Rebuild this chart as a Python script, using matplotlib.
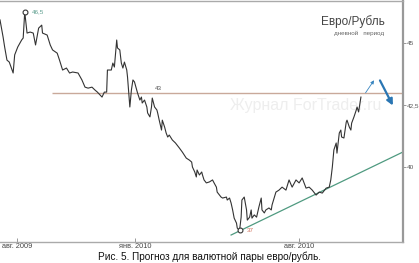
import numpy as np
import pandas as pd
import matplotlib
matplotlib.use("Agg")
import matplotlib.pyplot as plt
import matplotlib.dates as mdates

plt.rcParams['font.family'] = ['Liberation Sans', 'DejaVu Sans']

# курс евро/рубль, дневной период
dates = [
    "2009-07-10", "2009-07-14", "2009-07-16", "2009-07-19", "2009-07-22", "2009-07-27", "2009-07-29",
    "2009-08-02", "2009-08-07", "2009-08-09", "2009-08-11", "2009-08-14", "2009-08-18", "2009-08-22",
    "2009-08-25", "2009-08-29", "2009-09-02", "2009-09-03", "2009-09-09", "2009-09-13", "2009-09-16",
    "2009-09-22", "2009-09-25", "2009-09-29", "2009-10-04", "2009-10-08", "2009-10-12", "2009-10-19",
    "2009-10-24", "2009-10-28", "2009-11-01", "2009-11-06", "2009-11-10", "2009-11-13", "2009-11-19",
    "2009-11-22", "2009-11-25", "2009-11-26", "2009-12-01", "2009-12-03", "2009-12-05", "2009-12-08",
    "2009-12-09", "2009-12-12", "2009-12-14", "2009-12-16", "2009-12-18", "2009-12-21", "2009-12-22",
    "2009-12-25", "2009-12-27", "2009-12-29", "2009-12-31", "2010-01-03", "2010-01-04", "2010-01-07",
    "2010-01-09", "2010-01-10", "2010-01-13", "2010-01-16", "2010-01-17", "2010-01-20", "2010-01-22",
    "2010-01-23", "2010-01-26", "2010-01-29", "2010-01-30", "2010-02-01", "2010-02-04", "2010-02-05",
    "2010-02-08", "2010-02-10", "2010-02-12", "2010-02-14", "2010-02-18", "2010-02-22", "2010-02-25",
    "2010-02-27", "2010-03-03", "2010-03-08", "2010-03-12", "2010-03-15", "2010-03-16", "2010-03-19",
    "2010-03-21", "2010-03-22", "2010-03-25", "2010-03-28", "2010-03-29", "2010-03-31", "2010-04-03",
    "2010-04-07", "2010-04-11", "2010-04-13", "2010-04-16", "2010-04-17", "2010-04-20", "2010-04-22",
    "2010-04-24", "2010-04-29", "2010-04-30", "2010-05-03", "2010-05-05", "2010-05-07", "2010-05-09",
    "2010-05-12", "2010-05-13", "2010-05-16", "2010-05-18", "2010-05-19", "2010-05-22", "2010-05-25",
    "2010-05-26", "2010-05-29", "2010-05-31", "2010-06-01", "2010-06-04", "2010-06-07", "2010-06-10",
    "2010-06-13", "2010-06-14", "2010-06-17", "2010-06-19", "2010-06-23", "2010-06-26", "2010-06-27",
    "2010-07-02", "2010-07-06", "2010-07-10", "2010-07-15", "2010-07-19", "2010-07-23", "2010-07-28",
    "2010-08-01", "2010-08-05", "2010-08-10", "2010-08-14", "2010-08-18", "2010-08-23", "2010-08-27",
    "2010-08-31", "2010-09-05", "2010-09-09", "2010-09-11", "2010-09-13", "2010-09-15", "2010-09-18",
    "2010-09-19", "2010-09-22", "2010-09-24", "2010-09-25", "2010-09-28", "2010-10-01", "2010-10-02",
    "2010-10-05", "2010-10-07", "2010-10-08", "2010-10-11", "2010-10-14", "2010-10-15", "2010-10-17",
    "2010-10-20",
]
rate = [
    45.93, 45.24, 44.84, 44.31, 44.23, 43.79, 44.52,
    44.84, 45.12, 45.20, 46.25, 45.40, 45.44, 45.40,
    44.92, 45.60, 45.72, 45.40, 45.32, 44.92, 44.72,
    44.59, 44.31, 43.91, 43.99, 43.79, 43.83, 43.79,
    43.51, 43.22, 43.18, 43.22, 43.10, 43.02, 42.82,
    43.02, 43.02, 43.91, 43.91, 44.19, 44.03, 45.12,
    44.80, 44.72, 44.19, 43.99, 44.23, 43.91, 43.63,
    42.42, 43.10, 43.51, 43.43, 43.10, 42.98, 42.70,
    42.82, 42.58, 42.70, 42.42, 42.18, 42.02, 42.42,
    42.78, 42.42, 42.30, 42.18, 41.89, 41.49, 41.89,
    41.61, 41.37, 41.21, 41.29, 41.09, 40.97, 40.85,
    40.77, 40.60, 40.36, 40.28, 40.20, 40.00, 39.80,
    39.60, 39.88, 39.68, 39.80, 39.68, 39.48, 39.36,
    39.40, 39.48, 39.36, 39.19, 38.99, 38.87, 38.79,
    38.75, 38.79, 38.67, 38.75, 38.55, 38.27, 37.94,
    37.74, 37.54, 37.45, 37.98, 38.67, 38.79, 38.27,
    37.86, 37.98, 38.27, 37.94, 38.07, 37.98, 38.39,
    38.75, 38.27, 38.15, 38.27, 38.35, 38.27, 38.47,
    38.99, 39.07, 39.19, 39.07, 39.48, 39.19, 39.48,
    39.36, 39.56, 39.15, 39.19, 39.07, 38.87, 38.99,
    38.95, 39.15, 39.19, 39.48, 40.00, 40.69, 40.97,
    40.56, 41.37, 41.49, 41.21, 41.17, 41.81, 41.89,
    41.61, 41.49, 41.77, 42.02, 42.30, 42.42, 42.22,
    42.82,
]

# уровни и прогноз
level = 43.0
level_span = ["2009-09-15", "2010-12-13"]
trend_dates = ["2010-05-05", "2010-12-13"]
trend_vals = [37.26, 40.60]
up_arrow = (["2010-10-24", "2010-11-08"], [42.90, 43.59])
down_arrow = (["2010-11-12", "2010-12-02"], [43.59, 42.38])
peak = ("2009-08-11", 46.25, "46,5")
low = ("2010-05-16", 37.45, "37")

xticks = ["2009-08-01", "2010-01-01", "2010-08-01"]
xtick_labels = ["авг. 2009", "янв. 2010", "авг. 2010"]
yticks = [40, 42.5, 45]
ytick_labels = ["40", "42,5", "45"]

d = pd.to_datetime(dates)

fig = plt.figure(figsize=(4.19, 2.63), dpi=100)
ax = fig.add_axes([0.0, 0.08, 0.961, 0.916])

ax.plot(d, rate, color="#333333", lw=0.8, zorder=3)
ls = pd.to_datetime(level_span)
ax.hlines(level, ls[0], ls[1], color="#c9a99a", lw=1.0, zorder=2)
ax.text(pd.Timestamp("2010-01-26"), level + 0.05, "43", fontsize=4.5, color="#555555", va="bottom")

ax.plot(pd.to_datetime(trend_dates), trend_vals, color="#4f9a80", lw=0.9, zorder=2)

ud = pd.to_datetime(up_arrow[0])
ax.annotate("", xy=(ud[1], up_arrow[1][1]), xytext=(ud[0], up_arrow[1][0]),
            arrowprops=dict(arrowstyle="-|>", color="#3a86c0", lw=0.6, mutation_scale=5))
dd = pd.to_datetime(down_arrow[0])
ax.annotate("", xy=(dd[1], down_arrow[1][1]), xytext=(dd[0], down_arrow[1][0]),
            arrowprops=dict(arrowstyle="-|>", color="#2a76b3", lw=1.6, mutation_scale=9))

for when, val, lab, col in [(peak[0], peak[1], peak[2], "#5a9c8c"), (low[0], low[1], low[2], "#d0705a")]:
    t = pd.Timestamp(when)
    ax.plot([t], [val], marker="o", ms=3.5, mfc="white", mec="#333333", mew=0.8, zorder=4)
    ax.text(t + pd.Timedelta(days=9), val, lab, fontsize=4.5, color=col, va="center")

ax.text(0.955, 0.915, "Евро/Рубль", transform=ax.transAxes, fontsize=8.5, color="#444444",
        ha="right", va="center")
ax.text(0.955, 0.865, "дневной   период", transform=ax.transAxes, fontsize=4.5, color="#666666",
        ha="right", va="center")
ax.text(0.76, 0.565, "Журнал ForTrader.ru", transform=ax.transAxes, fontsize=11.5,
        color="#eeeeee", ha="center", va="center", zorder=1)

ax.set_xlim(pd.Timestamp("2009-07-10"), pd.Timestamp("2010-12-13"))
ax.set_ylim(36.98, 46.69)

ax.set_xticks(pd.to_datetime(xticks))
ax.set_xticklabels(xtick_labels)
ax.set_yticks(yticks)
ax.set_yticklabels(ytick_labels)
ax.yaxis.tick_right()
ax.tick_params(axis="x", direction="in", length=3, width=0.6, colors="#888888",
               labelcolor="#444444", labelsize=5.3, pad=1)
ax.tick_params(axis="y", direction="out", length=2, width=0.6, colors="#888888",
               labelcolor="#555555", labelsize=4.6, pad=1)

for s in ["top", "bottom"]:
    ax.spines[s].set_color("#aaaaaa")
    ax.spines[s].set_linewidth(1.0)
ax.spines["right"].set_color("#999999")
ax.spines["right"].set_linewidth(1.6)
ax.spines["left"].set_visible(False)

fig.text(0.5, 0.004, "Рис. 5. Прогноз для валютной пары евро/рубль.", ha="center", va="bottom",
         fontsize=7.2, color="#111111")

fig.savefig("out.png", dpi=100)
